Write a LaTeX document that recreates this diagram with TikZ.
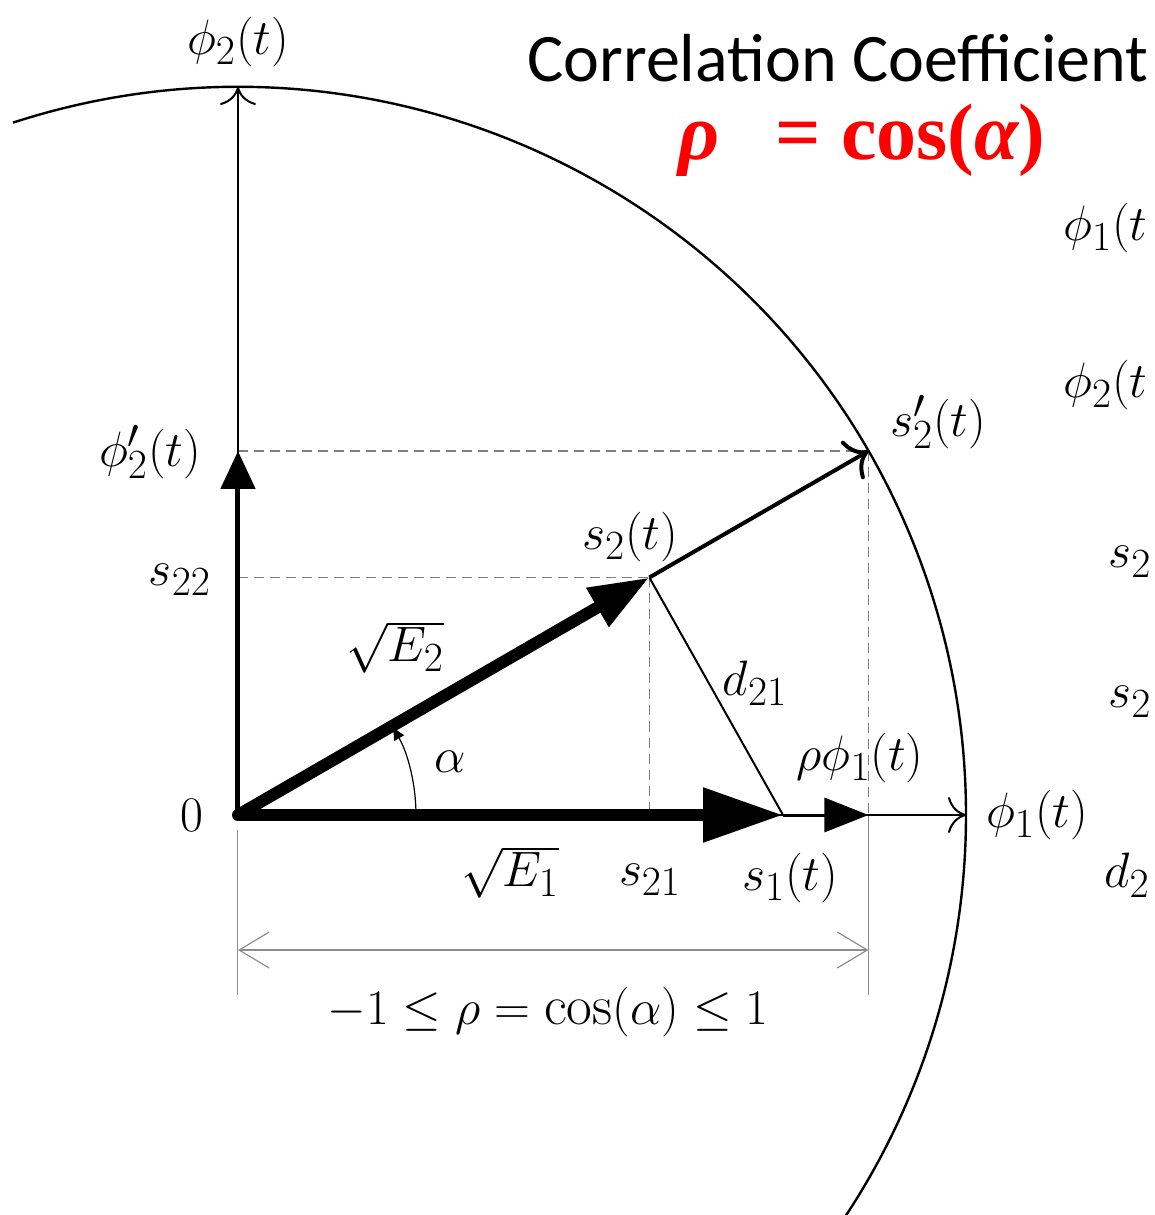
\documentclass[tikz,border=0pt]{standalone}
\usepackage{fontspec}
\newfontfamily\calfont{Carlito}
\newfontfamily\eqfont{Liberation Serif}
\usepackage{tikz}
\usetikzlibrary{arrows.meta}
\definecolor{guidegray}{HTML}{7F7F7F}
\definecolor{dimgray}{HTML}{8C8C8C}
\definecolor{rhored}{HTML}{FF0000}
\tikzset{
  lbl/.style={font=\fontsize{28}{32}\selectfont,inner sep=0pt},
  cutlbl/.style={font=\fontsize{28}{32}\selectfont,inner sep=0pt,anchor=west},
  titletext/.style={font=\calfont\fontsize{34}{40}\selectfont,inner sep=0pt},
  formula/.style={font=\eqfont\bfseries\fontsize{40}{46}\selectfont,text=rhored,inner sep=0pt},
  ring/.style={draw=black,line width=1.2pt},
  axisline/.style={line width=1pt,-{Computer Modern Rightarrow[length=9pt,width=18pt]}},
  bigvec/.style={line width=6pt,-{Triangle[length=40pt,width=26pt]}},
  slantvec/.style={line width=6pt,-{Triangle[length=30pt,width=21pt]}},
  upvec/.style={line width=2.5pt,-{Triangle[length=19pt,width=17pt]}},
  midvec/.style={line width=1.5pt,-{Triangle[length=22pt,width=17pt]}},
  openvec/.style={line width=2pt,-{Computer Modern Rightarrow[length=10pt,width=22pt]}},
  chord/.style={line width=1pt},
  guideline/.style={draw=guidegray,line width=0.6pt,dash pattern=on 5pt off 3pt},
  extline/.style={draw=dimgray,line width=0.5pt},
  dimline/.style={draw=dimgray,line width=0.6pt,
    {Straight Barb[length=15pt,width=18pt]}-{Straight Barb[length=15pt,width=18pt]}},
  anglearc/.style={line width=0.6pt,-{Latex[length=7pt,width=6pt]}},
  dotnode/.style={circle,fill=black,inner sep=0pt,minimum size=6pt}
}
\begin{document}
\begin{tikzpicture}[x=0.5pt,y=0.5pt]
  \useasboundingbox (-238,-400) rectangle (917,815);
  \clip (-238,-400) rectangle (917,815);
  % geometry of the signal space
  \coordinate (O) at (0,0);
  \coordinate (X) at (0:728);
  \coordinate (Y) at (90:728);
  \coordinate (A0) at (108:728);
  \coordinate (S2p) at (30:728);
  \coordinate (S2) at (30:475);
  \coordinate (S1) at (545,0);
  \coordinate (P1) at (S2p |- O);
  \coordinate (Yp) at (O |- S2p);
  \coordinate (S22) at (O |- S2);
  \coordinate (S21) at (S2 |- O);
  \coordinate (E1a) at (0,-15);
  \coordinate (E1b) at (0,-180);
  \coordinate (E2b) at (P1 |- E1b);
  \coordinate (D1) at (0,-135);
  \coordinate (D2) at (P1 |- D1);
  % projections
  \draw[guideline] (Yp) -- (S2p);
  \draw[guideline] (S22) -- (S2);
  \draw[guideline] (S2) -- (S21);
  \draw[guideline] (S2p) -- (P1);
  \draw[extline] (P1) -- (E2b);
  \draw[extline] (E1a) -- (E1b);
  \draw[dimline] (D1) -- (D2);
  % unit circle and axes
  \draw[ring] (A0) arc (108:-40:728);
  \draw[axisline] (O) -- (X);
  \draw[axisline] (O) -- (Y);
  % vectors
  \draw[chord] (S2) -- (S1);
  \draw[openvec] (S2) -- (S2p);
  \draw[midvec] (S1) -- (P1);
  \draw[upvec] (O) -- (Yp);
  \draw[slantvec] (O) -- (S2);
  \draw[bigvec] (O) -- (S1);
  \draw[anglearc] (178,0) arc (0:30:178);
  \node[dotnode] (o) at (O) {};
  % labels
  \node[lbl] (phi2lbl) at (0,773) {$\phi_2(t)$};
  \node[lbl] (phi2plbl) at (-88,363) {$\phi_2'(t)$};
  \node[lbl] (s22lbl) at (-58,235) {$s_{22}$};
  \node[lbl] (e2lbl) at (157,168) {$\sqrt{E_2}$};
  \node[lbl] (alphalbl) at (212,53) {$\alpha$};
  \node[lbl] (zerolbl) at (-46,0) {$0$};
  \node[lbl] (e1lbl) at (272,-57) {$\sqrt{E_1}$};
  \node[lbl] (s21lbl) at (412,-65) {$s_{21}$};
  \node[lbl] (s1lbl) at (552,-63) {$s_1(t)$};
  \node[lbl] (rholbl) at (622,57) {$\rho\phi_1(t)$};
  \node[lbl] (phi1lbl) at (799,0) {$\phi_1(t)$};
  \node[lbl] (d21lbl) at (517,132) {$d_{21}$};
  \node[lbl] (s2lbl) at (392,278) {$s_2(t)$};
  \node[lbl] (s2plbl) at (700,393) {$s_2'(t)$};
  \node[lbl] (rangelbl) at (310,-197) {$-1\le\rho=\cos(\alpha)\le1$};
  \node[titletext] (title) at (600,757) {Correlation Coefficient};
  \node[formula] (rhoeq) at (624,675) {\itshape ρ\upshape\hspace{0.7em}= cos(\itshape α\upshape)};
  % labels cut by the right edge
  \node[cutlbl] (cutphione) at (825,587) {$\phi_1(t$};
  \node[cutlbl] (cutphitwo) at (825,430) {$\phi_2(t$};
  \node[cutlbl] (cutsone) at (870,253) {$s_2$};
  \node[cutlbl] (cutstwo) at (870,113) {$s_2$};
  \node[cutlbl] (cutd) at (866,-60) {$d_2$};
\end{tikzpicture}
\end{document}
